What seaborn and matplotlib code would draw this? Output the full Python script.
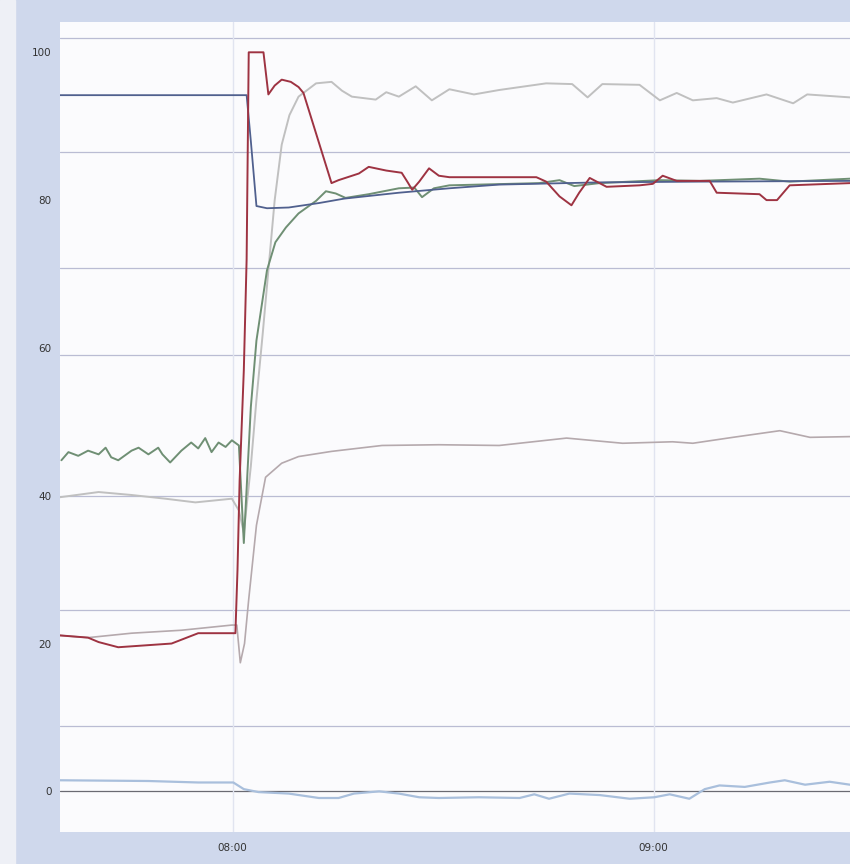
import pandas as pd
import numpy as np
import matplotlib
matplotlib.use("Agg")
import matplotlib.pyplot as plt
import matplotlib.dates as mdates
from matplotlib.patches import Rectangle
import seaborn as sns

# minutes relative to 08:00
red_t = [-24.6, -20.6, -19.1, -16.3, -8.7, -4.9, 0.4, 0.7, 1.0, 1.6, 2.0, 2.3, 4.4, 5.1, 6.0, 7.0, 8.3, 9.4, 10.1,
         14.1, 15.1, 18.0, 19.4, 21.9, 24.1, 24.9, 25.6, 26.6, 28.0, 29.4, 30.9, 43.3, 44.7, 46.6, 48.3, 49.4,
         50.9, 53.3, 58.0, 59.9, 61.3, 63.3, 68.0, 69.0, 75.1, 76.1, 77.6, 79.4, 88.0]
red_v = [21.1, 20.8, 20.2, 19.5, 20.0, 21.4, 21.4, 30.0, 42.0, 57.0, 72.0, 100.0, 100.0, 94.3, 95.5, 96.3, 96.0,
         95.3, 94.5, 82.3, 82.7, 83.6, 84.5, 84.0, 83.7, 82.5, 81.4, 82.5, 84.3, 83.3, 83.1, 83.1, 82.5, 80.5,
         79.3, 81.0, 83.0, 81.8, 82.0, 82.2, 83.3, 82.6, 82.6, 81.0, 80.8, 80.0, 80.0, 82.0, 82.3]

blue_t = [-24.6, 2.0, 2.6, 3.4, 4.9, 8.0, 12.3, 15.9, 23.7, 30.9, 38.0, 52.3, 66.6, 88.0]
blue_v = [94.2, 94.2, 88.0, 79.2, 78.9, 79.0, 79.6, 80.2, 81.0, 81.6, 82.1, 82.4, 82.5, 82.6]

green_t = [-24.4, -23.4, -22.0, -20.6, -19.1, -18.1, -17.3, -16.3, -14.4, -13.4, -12.0, -10.6, -10.0, -8.9,
           -7.3, -5.9, -4.9, -3.9, -3.0, -2.0, -1.0, -0.1, 0.9, 1.6, 2.6, 3.4, 4.9, 6.1, 7.6, 9.4, 11.9, 13.3,
           14.7, 16.1, 19.4, 23.7, 25.9, 27.0, 28.7, 30.9, 43.7, 46.6, 48.7, 52.3, 60.9, 66.6, 75.1, 79.4, 88.0]
green_v = [44.8, 45.9, 45.4, 46.1, 45.6, 46.5, 45.2, 44.8, 46.1, 46.5, 45.6, 46.5, 45.6, 44.5,
           46.1, 47.2, 46.4, 47.8, 45.9, 47.2, 46.6, 47.5, 46.8, 33.6, 52.0, 61.0, 70.5, 74.3, 76.3, 78.2, 79.9,
           81.2, 80.9, 80.3, 80.8, 81.6, 81.7, 80.4, 81.6, 82.0, 82.3, 82.7, 81.9, 82.3, 82.7, 82.6, 82.9, 82.5,
           82.9]

grey_a_t = [-24.6, -19.1, -14.4, -9.6, -5.3, -0.1, 0.9, 1.6, 2.6, 3.4, 4.3, 5.1, 6.0, 7.0, 8.1, 9.4, 11.9,
            14.1, 15.6, 17.0, 18.7, 20.4, 21.9, 23.7, 26.1, 28.4, 30.9, 34.4, 38.0, 44.7, 48.4, 50.6, 52.7,
            58.0, 60.9, 63.3, 65.6, 69.0, 71.3, 76.1, 79.9, 81.9, 88.0]
grey_a_v = [39.8, 40.5, 40.1, 39.6, 39.1, 39.6, 38.0, 35.0, 44.0, 53.0, 62.0, 70.5, 80.0, 87.5, 91.5, 94.0,
            95.8, 96.0, 94.8, 94.0, 93.8, 93.6, 94.6, 94.0, 95.4, 93.5, 95.0, 94.3, 94.9, 95.8, 95.7, 93.9,
            95.7, 95.6, 93.5, 94.5, 93.5, 93.8, 93.2, 94.3, 93.1, 94.3, 93.9]

grey_b_t = [-24.6, -20.6, -14.4, -7.3, -0.1, 0.6, 1.1, 1.7, 2.3, 3.4, 4.7, 7.0, 9.4, 14.1, 21.3, 29.4, 38.0,
            47.6, 55.6, 62.7, 65.6, 71.3, 78.0, 82.3, 88.0]
grey_b_v = [21.1, 20.8, 21.4, 21.8, 22.5, 22.5, 17.4, 20.0, 26.0, 36.0, 42.5, 44.4, 45.3, 46.0, 46.8, 46.9,
            46.8, 47.8, 47.1, 47.3, 47.1, 47.9, 48.8, 47.9, 48.0]

lblue_t = [-24.6, -12.0, -4.9, 0.1, 1.6, 3.7, 8.0, 12.3, 15.1, 17.3, 20.9, 23.7, 26.6, 29.4, 35.1, 40.9, 43.0,
           45.1, 48.0, 52.3, 56.6, 60.1, 62.3, 65.1, 67.3, 69.4, 73.0, 76.6, 78.7, 81.6, 85.1, 88.0]
lblue_v = [1.5, 1.4, 1.2, 1.2, 0.3, -0.1, -0.3, -0.9, -0.9, -0.3, 0.0, -0.3, -0.8, -0.9, -0.8, -0.9, -0.4,
           -1.0, -0.3, -0.5, -1.0, -0.8, -0.4, -1.0, 0.3, 0.8, 0.6, 1.2, 1.5, 0.9, 1.3, 0.9]

limit_levels = [101.9, 86.5, 70.8, 59.0, 39.9, 24.5, 8.8]
y_ticks = [0, 20, 40, 60, 80, 100]

base = pd.Timestamp("2000-01-01 08:00")


def to_time(mins):
    return base + pd.to_timedelta(mins, unit="min")


sns.set_style("white")
fig = plt.figure(figsize=(8.5, 8.64), dpi=100, facecolor="#cfd8ec")
fig.patches.append(Rectangle((0, 0), 15 / 850, 1, transform=fig.transFigure, color="#eef0f6", zorder=0))
ax = fig.add_axes([60 / 850, 1 - 832 / 864, 1 - 60 / 850, (832 - 22) / 864])
ax.set_facecolor("#fbfbfd")

# alarm / limit lines and hour grid
for lvl in limit_levels:
    ax.axhline(lvl, color="#babcd3", lw=0.9, zorder=1)
ax.axhline(0, color="#6a6a72", lw=0.9, zorder=1)
for h in ["2000-01-01 08:00", "2000-01-01 09:00"]:
    ax.axvline(pd.Timestamp(h), color="#e1e4f0", lw=1.0, zorder=1)

series = [
    (lblue_t, lblue_v, "#a9bfdc", 1.6),
    (grey_b_t, grey_b_v, "#b5a9ad", 1.2),
    (grey_a_t, grey_a_v, "#c0c0c0", 1.4),
    (green_t, green_v, "#6f8f74", 1.4),
    (blue_t, blue_v, "#50608e", 1.3),
    (red_t, red_v, "#9e3342", 1.4),
]
for t, v, c, lw in series:
    sns.lineplot(x=to_time(t), y=v, color=c, lw=lw, ax=ax, zorder=3, sort=False)

ax.set_xlim(to_time(-24.6), to_time(28 + 60))
ax.set_ylim(-5.5, 104.1)
ax.set_yticks(y_ticks)
ax.xaxis.set_major_locator(mdates.HourLocator())
ax.xaxis.set_major_formatter(mdates.DateFormatter("%H:%M"))
ax.tick_params(axis="both", labelsize=7.5, colors="#333333", length=3, width=0.6, pad=3)
ax.tick_params(axis="x", length=0, pad=8)
for s in ax.spines.values():
    s.set_visible(False)
ax.set_xlabel("")
ax.set_ylabel("")

fig.savefig("out.png", dpi=100, facecolor=fig.get_facecolor())
